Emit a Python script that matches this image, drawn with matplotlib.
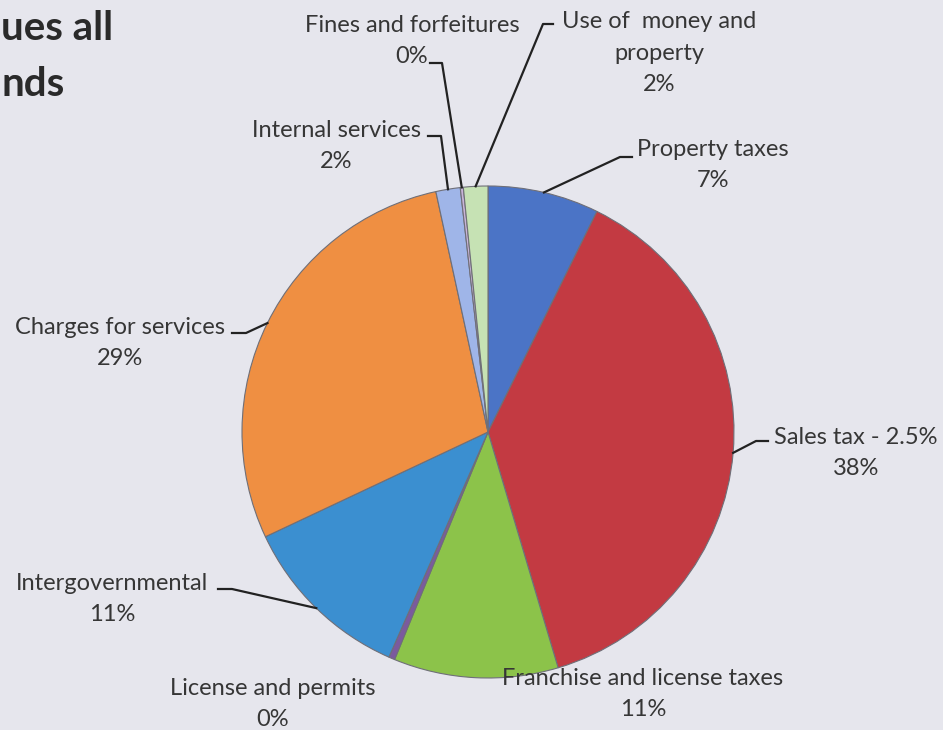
import numpy as np
import matplotlib.pyplot as plt
from matplotlib.lines import Line2D

W, H = 943, 730

# data, clockwise from 12 o'clock
categories = ["Property taxes", "Sales tax - 2.5%", "Franchise and license taxes",
              "License and permits", "Intergovernmental", "Charges for services",
              "Internal services", "Fines and forfeitures", "Use of  money and\nproperty"]
shares = [7.3, 38.1, 10.8, 0.4, 11.4, 28.6, 1.6, 0.2, 1.6]
colors = ["#4b74c6", "#c33a42", "#8cc34a", "#7b5a9e", "#3b8fd0",
          "#ef8f42", "#9fb5e8", "#c8b4d8", "#c6e2b4"]

# label layout: text centre (px from left, px from top) and leader elbow
label_pos = {
    0: ((713, 165), [(632, 157), (620, 157)]),
    1: ((856, 453), [(768, 441), (756, 441)]),
    2: ((643, 694), None),
    3: ((273, 704), None),
    4: ((112, 599), [(218, 589), (232, 589)]),
    5: ((120, 343), [(232, 333), (246, 333)]),
    6: ((336, 146), [(428, 136), (441, 136)]),
    7: ((412, 41), [(430, 63), (442, 63)]),
    8: ((659, 53), [(553, 24), (543, 24)]),
}

plt.rcParams['font.family'] = ['Lato', 'DejaVu Sans']

def px(x, y):
    return x / W, 1 - y / H

fig = plt.figure(figsize=(W / 100, H / 100), dpi=100)
fig.patch.set_facecolor("#e6e6ed")

cx, cy, r = 488, 432, 246
ax = fig.add_axes([(cx - r) / W, (H - cy - r) / H, 2 * r / W, 2 * r / H])
ax.set_facecolor("none")
wedges, _ = ax.pie(shares, colors=colors, startangle=90, counterclock=False,
                   radius=1, wedgeprops=dict(edgecolor="#6f6f78", linewidth=0.8))
ax.set_xlim(-1, 1)
ax.set_ylim(-1, 1)
ax.set_aspect("equal")
ax.axis("off")

for i, w in enumerate(wedges):
    (tx, ty), elbow = label_pos[i]
    txt = categories[i] + "\n" + f"{shares[i]:.0f}%"
    fig.text(*px(tx, ty), txt, ha="center", va="center", fontsize=17,
             color="#363636", linespacing=1.6)
    if elbow is None:
        continue
    mid = np.deg2rad((w.theta1 + w.theta2) / 2)
    edge = ax.transData.transform((np.cos(mid), np.sin(mid)))
    ex, ey = fig.transFigure.inverted().transform(edge)
    xs = [px(*elbow[0])[0], px(*elbow[1])[0], ex]
    ys = [px(*elbow[0])[1], px(*elbow[1])[1], ey]
    fig.add_artist(Line2D(xs, ys, transform=fig.transFigure, color="#222222", lw=1.6))

# slide title (cut off at the left in the source)
fig.text(*px(1, 28), "ues all", ha="left", va="center", fontsize=29,
         fontweight="bold", color="#2a2a2a")
fig.text(*px(1, 84), "nds", ha="left", va="center", fontsize=29,
         fontweight="bold", color="#2a2a2a")

fig.savefig("out.png", dpi=100, facecolor=fig.get_facecolor())
